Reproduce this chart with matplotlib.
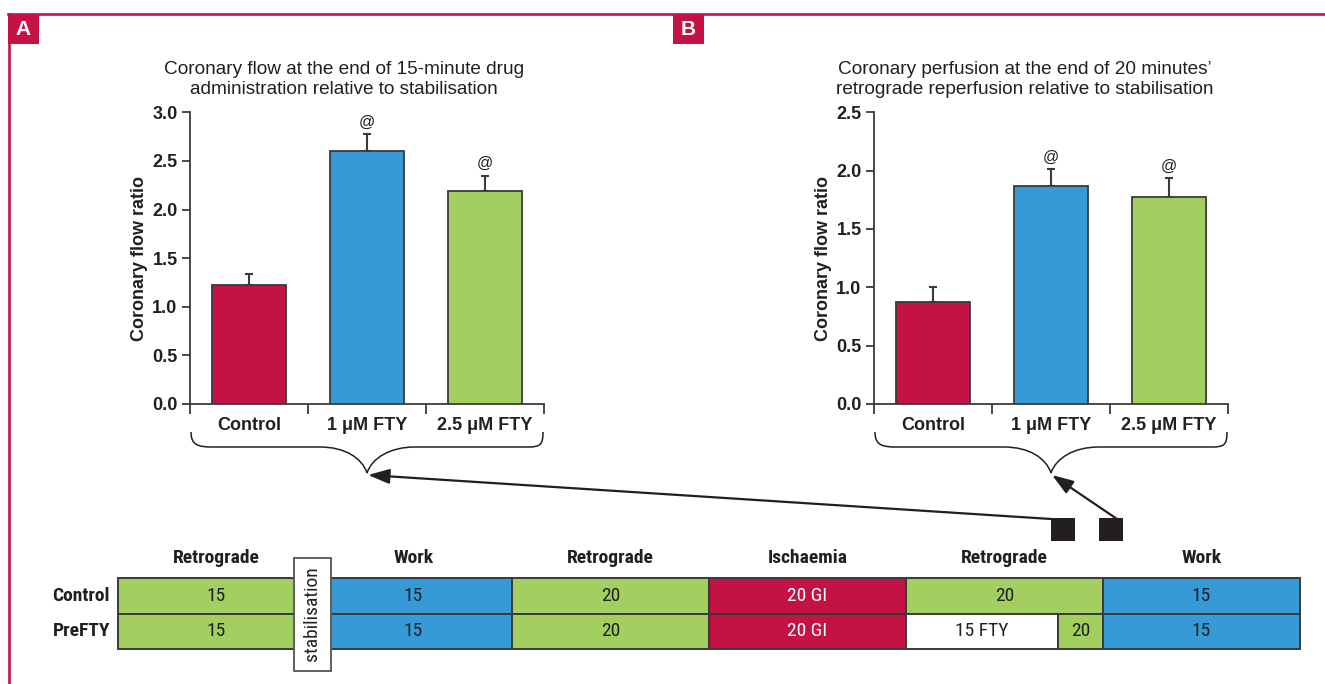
import numpy as np
import matplotlib
matplotlib.use("Agg")
import matplotlib.pyplot as plt
from matplotlib.patches import Rectangle, FancyArrowPatch, PathPatch
from matplotlib.path import Path
from matplotlib.lines import Line2D
from matplotlib.transforms import Affine2D

W, H = 1325, 684
RED = "#C41245"
BLUE = "#359AD6"
GREEN = "#A3CE60"
EDGE = "#3a3a3a"
INK = "#231f20"

SANS = ["Liberation Sans", "DejaVu Sans"]
NARROW = ["Roboto Condensed", "IBM Plex Sans Condensed", "Liberation Sans", "DejaVu Sans"]
plt.rcParams["font.family"] = SANS

# bar data (mean ratio and upper SEM)
groups = ["Control", "1 \u03bcM FTY", "2.5 \u03bcM FTY"]
flow_drug = [1.22, 2.60, 2.19]
flow_drug_err = [0.12, 0.18, 0.16]
perf_reperf = [0.87, 1.87, 1.77]
perf_reperf_err = [0.13, 0.14, 0.17]
signif = [False, True, True]
bar_colors = [RED, BLUE, GREEN]

# perfusion protocol (minutes per phase)
phases = ["Retrograde", "Work", "Retrograde", "Ischaemia", "Retrograde", "Work"]
phase_colors = [GREEN, BLUE, GREEN, RED, GREEN, BLUE]
control_row = ["15", "15", "20", "20 GI", "20", "15"]
prefty_row = ["15", "15", "20", "20 GI", ["15 FTY", "20"], "15"]
row_names = ["Control", "PreFTY"]

fig = plt.figure(figsize=(W / 100, H / 100), dpi=100)
# pixel coordinates measured from the top-left corner
px = Affine2D().scale(1 / W, -1 / H).translate(0, 1) + fig.transFigure


def bar_panel(left, vals, errs, ymax, title, title_x):
    ax = fig.add_axes([left / W, 1 - 404 / H, 354 / W, (404 - 112.3) / H])
    x = np.arange(len(groups))
    ax.bar(x, vals, width=0.63, color=bar_colors, edgecolor=EDGE,
           linewidth=1.3, zorder=3)
    ax.errorbar(x, vals, yerr=[np.zeros(len(vals)), errs], fmt="none",
                ecolor=EDGE, elinewidth=1.5, capsize=3, capthick=1.5, zorder=2)
    for i, (v, e, s) in enumerate(zip(vals, errs, signif)):
        if s:
            ax.annotate("@", (i, v + e), xytext=(0, 3), textcoords="offset points",
                        ha="center", va="bottom", fontsize=11.5, color=INK)
    ax.set_xlim(-0.5, len(groups) - 0.5)
    ax.set_ylim(0, ymax)
    ax.set_yticks(np.arange(0, ymax + 0.01, 0.5))
    ax.set_yticklabels([f"{t:.1f}" for t in np.arange(0, ymax + 0.01, 0.5)],
                       fontsize=13, fontweight="bold", color=INK)
    ax.set_xticks(np.arange(-0.5, len(groups)))
    ax.set_xticklabels([])
    ax.set_xticks(x, minor=True)
    ax.set_xticklabels(groups, minor=True, fontsize=13, fontweight="bold", color=INK)
    ax.tick_params(axis="x", which="major", length=7, width=1.3, color=EDGE)
    ax.tick_params(axis="x", which="minor", length=0, pad=9)
    ax.tick_params(axis="y", length=6, width=1.3, color=EDGE, pad=3)
    for side in ["top", "right"]:
        ax.spines[side].set_visible(False)
    for side in ["left", "bottom"]:
        ax.spines[side].set_color(EDGE)
        ax.spines[side].set_linewidth(1.3)
    ax.set_ylabel("Coronary flow ratio", fontsize=13, fontweight="bold", color=INK)
    ax.yaxis.set_label_coords(-0.12, 0.5)
    for k, line in enumerate(title):
        fig.text(title_x, 70 + 19.5 * k, line, transform=px, ha="center",
                 va="center", fontsize=13.7, color=INK)
    # curly brace under the group labels
    x0, x1 = left + 1, left + 353
    xm = (x0 + x1) / 2
    verts = [(x0, 432), (x0, 445), (x0 + 7, 447), (x0 + 21, 447),
             (xm - 47, 447),
             (xm - 22, 447), (xm - 5, 458), (xm, 473),
             (xm + 5, 458), (xm + 23, 447), (xm + 48, 447),
             (x1 - 15, 447),
             (x1 - 3, 447), (x1, 445), (x1, 432)]
    codes = [Path.MOVETO, Path.CURVE4, Path.CURVE4, Path.CURVE4,
             Path.LINETO,
             Path.CURVE4, Path.CURVE4, Path.CURVE4,
             Path.CURVE4, Path.CURVE4, Path.CURVE4,
             Path.LINETO,
             Path.CURVE4, Path.CURVE4, Path.CURVE4]
    fig.add_artist(PathPatch(Path(verts, codes), transform=px, fill=False,
                             edgecolor=INK, linewidth=1.1))
    return ax, (xm, 473)


ax_a, tip_a = bar_panel(190, flow_drug, flow_drug_err, 3.0,
                        ["Coronary flow at the end of 15-minute drug",
                         "administration relative to stabilisation"], 344)
ax_b, tip_b = bar_panel(874, perf_reperf, perf_reperf_err, 2.5,
                        ["Coronary perfusion at the end of 20 minutes\u2019",
                         "retrograde reperfusion relative to stabilisation"], 1025)

# protocol table
tab = fig.add_axes([118 / W, 1 - 649 / H, (1300 - 118) / W, (649 - 578) / H])
tab.set_xlim(0, len(phases))
tab.set_ylim(0, 2)
tab.axis("off")
text_col = {GREEN: INK, BLUE: INK, RED: "white", "white": INK}
for r, row in enumerate([control_row, prefty_row]):
    y0 = 1 - r
    for c, cell in enumerate(row):
        parts = cell if isinstance(cell, list) else [cell]
        if len(parts) == 1:
            spans = [(c, 1.0, phase_colors[c])]
        else:
            spans = [(c, 0.77, "white"), (c + 0.77, 0.23, phase_colors[c])]
        for (cx, cw, col), label in zip(spans, parts):
            tab.add_patch(Rectangle((cx, y0), cw, 1, facecolor=col, edgecolor=EDGE,
                                    linewidth=1.4, clip_on=False))
            tab.text(cx + cw / 2, y0 + 0.5, label, ha="center", va="center",
                     fontsize=14, family=NARROW, color=text_col[col])
    tab.text(-0.04, y0 + 0.5, row_names[r], ha="right", va="center", fontsize=14,
             fontweight="bold", family=NARROW, color=INK)
for c, name in enumerate(phases):
    tab.text(c + 0.5, 2.56, name, ha="center", va="center", fontsize=14,
             fontweight="bold", family=NARROW, color=INK)
tab.add_patch(Rectangle((0.893, -0.62), 0.188, 3.18, facecolor="white",
                        edgecolor="#555555", linewidth=1.3, clip_on=False, zorder=4))
tab.text(0.987, 1.0, "stabilisation", rotation=90, ha="center", va="center",
         fontsize=14, family=NARROW, color=INK, zorder=5)
# sampling time points
for sx in [4.736, 4.98]:
    tab.add_patch(Rectangle((sx, 3.04), 0.12, 0.65, facecolor=INK,
                            edgecolor="none", clip_on=False))

for start, tip in [((1051, 519), tip_a), ((1117, 519), tip_b)]:
    fig.add_artist(FancyArrowPatch(start, (tip[0] + 1, tip[1] + 2), transform=px,
                                   arrowstyle="-|>,head_length=13,head_width=4.5",
                                   mutation_scale=1, color=INK, linewidth=1.6,
                                   shrinkA=0, shrinkB=0))

# panel frame and letters
fig.add_artist(Line2D([8, W], [14, 14], transform=px, color=RED, linewidth=1.9))
fig.add_artist(Line2D([8.5, 8.5], [14, H], transform=px, color=RED, linewidth=1.9))
for lx, letter in [(8, "A"), (673, "B")]:
    fig.add_artist(Rectangle((lx, 44), 31, -30, transform=px, facecolor=RED,
                             edgecolor="none"))
    fig.text(lx + 15.5, 29.5, letter, transform=px, ha="center", va="center",
             fontsize=15, fontweight="bold", color="white")

fig.savefig("out.png", dpi=100)
